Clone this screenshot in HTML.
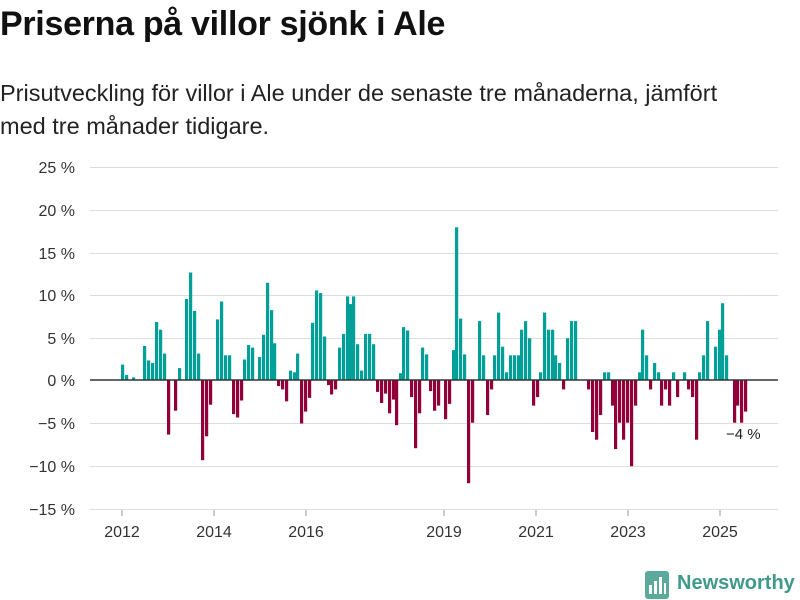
<!DOCTYPE html>
<html><head><meta charset="utf-8"><style>
body{margin:0;background:#fff;width:800px;height:600px;overflow:hidden;font-family:"Liberation Sans",sans-serif;color:#111}
h1{position:absolute;left:0;top:5px;margin:0;font-size:34px;font-weight:bold;letter-spacing:-0.3px}
p{position:absolute;left:0;top:77px;margin:0;font-size:23.5px;line-height:33px;color:#222;width:755px}
svg{position:absolute;left:0;top:0}
</style></head><body>
<h1>Priserna på villor sjönk i Ale</h1>
<p>Prisutveckling för villor i Ale under de senaste tre månaderna, jämfört med tre månader tidigare.</p>
<svg width="800" height="600" font-family="Liberation Sans, sans-serif">
<g stroke="#ddd" stroke-width="1">
<line x1="90" x2="778" y1="167.5" y2="167.5"/><line x1="90" x2="778" y1="210.5" y2="210.5"/>
<line x1="90" x2="778" y1="253.5" y2="253.5"/><line x1="90" x2="778" y1="295.5" y2="295.5"/>
<line x1="90" x2="778" y1="338.5" y2="338.5"/><line x1="90" x2="778" y1="423.5" y2="423.5"/>
<line x1="90" x2="778" y1="466.5" y2="466.5"/><line x1="90" x2="778" y1="509.5" y2="509.5"/>
</g>
<g font-size="16" fill="#333" text-anchor="end">
<text x="75" y="173">25 %</text><text x="75" y="216">20 %</text><text x="75" y="259">15 %</text>
<text x="75" y="301">10 %</text><text x="75" y="344">5 %</text><text x="75" y="386">0 %</text>
<text x="75" y="429">−5 %</text><text x="75" y="472">−10 %</text><text x="75" y="515">−15 %</text>
</g>
<g font-size="16" fill="#333" text-anchor="middle">
<text x="122" y="537">2012</text><text x="214" y="537">2014</text><text x="306" y="537">2016</text>
<text x="444" y="537">2019</text><text x="536" y="537">2021</text><text x="628" y="537">2023</text><text x="720" y="537">2025</text>
</g>
<g stroke="#999"><line x1="122" x2="122" y1="510" y2="516"/><line x1="214" x2="214" y1="510" y2="516"/><line x1="306" x2="306" y1="510" y2="516"/><line x1="444" x2="444" y1="510" y2="516"/><line x1="536" x2="536" y1="510" y2="516"/><line x1="628" x2="628" y1="510" y2="516"/><line x1="720" x2="720" y1="510" y2="516"/></g>
<g fill="#00a099">
<rect x="121" y="364.6" width="3.2" height="15.4"/><rect x="125" y="374.9" width="3.2" height="5.1"/><rect x="132" y="377.4" width="3.2" height="2.6"/>
<rect x="143" y="345.9" width="3.2" height="34.1"/><rect x="147" y="360.4" width="3.2" height="19.6"/><rect x="151" y="362.9" width="3.2" height="17.1"/>
<rect x="155" y="322" width="3.2" height="58"/><rect x="159" y="329.7" width="3.2" height="50.3"/><rect x="163" y="353.6" width="3.2" height="26.4"/>
<rect x="178" y="368.1" width="3.2" height="11.9"/><rect x="185" y="299" width="3.2" height="81"/><rect x="189" y="272.5" width="3.2" height="107.5"/>
<rect x="193" y="310.9" width="3.2" height="69.1"/><rect x="197" y="353.6" width="3.2" height="26.4"/>
<rect x="216" y="319.4" width="3.2" height="60.6"/><rect x="220" y="301.5" width="3.2" height="78.5"/><rect x="224" y="355.3" width="3.2" height="24.7"/><rect x="228" y="355.3" width="3.2" height="24.7"/>
<rect x="243" y="359.5" width="3.2" height="20.5"/><rect x="247" y="345" width="3.2" height="35"/><rect x="251" y="347.6" width="3.2" height="32.4"/>
<rect x="258" y="357" width="3.2" height="23"/><rect x="262" y="334.8" width="3.2" height="45.2"/><rect x="266" y="282.8" width="3.2" height="97.2"/>
<rect x="270" y="310.1" width="3.2" height="69.9"/><rect x="273" y="343.3" width="3.2" height="36.7"/>
<rect x="289" y="370.6" width="3.2" height="9.4"/><rect x="293" y="372.3" width="3.2" height="7.7"/><rect x="296" y="353.6" width="3.2" height="26.4"/>
<rect x="311" y="322.8" width="3.2" height="57.2"/><rect x="315" y="290.4" width="3.2" height="89.6"/><rect x="319" y="293" width="3.2" height="87"/><rect x="323" y="336.5" width="3.2" height="43.5"/>
<rect x="338" y="347.6" width="3.2" height="32.4"/><rect x="342" y="333.9" width="3.2" height="46.1"/><rect x="346" y="296.4" width="3.2" height="83.6"/>
<rect x="349" y="304.1" width="3.2" height="75.9"/><rect x="352" y="296.4" width="3.2" height="83.6"/><rect x="356" y="344.2" width="3.2" height="35.8"/>
<rect x="360" y="370.6" width="3.2" height="9.4"/><rect x="364" y="333.9" width="3.2" height="46.1"/><rect x="368" y="333.9" width="3.2" height="46.1"/><rect x="372" y="344.2" width="3.2" height="35.8"/>
<rect x="399" y="373.2" width="3.2" height="6.8"/><rect x="402" y="327.1" width="3.2" height="52.9"/><rect x="406" y="330.5" width="3.2" height="49.5"/>
<rect x="421" y="347.6" width="3.2" height="32.4"/><rect x="425" y="354.4" width="3.2" height="25.6"/>
<rect x="452" y="350.1" width="3.2" height="29.9"/><rect x="455" y="227.3" width="3.2" height="152.7"/><rect x="459" y="318.6" width="3.2" height="61.4"/><rect x="463" y="354.4" width="3.2" height="25.6"/>
<rect x="478" y="321.1" width="3.2" height="58.9"/><rect x="482" y="355.3" width="3.2" height="24.7"/>
<rect x="493" y="355.3" width="3.2" height="24.7"/><rect x="497" y="312.6" width="3.2" height="67.4"/><rect x="501" y="346.7" width="3.2" height="33.3"/><rect x="505" y="372.3" width="3.2" height="7.7"/>
<rect x="509" y="355.3" width="3.2" height="24.7"/><rect x="513" y="355.3" width="3.2" height="24.7"/><rect x="517" y="355.3" width="3.2" height="24.7"/>
<rect x="520" y="329.7" width="3.2" height="50.3"/><rect x="524" y="321.1" width="3.2" height="58.9"/><rect x="528" y="338.2" width="3.2" height="41.8"/>
<rect x="539" y="372.3" width="3.2" height="7.7"/><rect x="543" y="312.6" width="3.2" height="67.4"/><rect x="547" y="329.7" width="3.2" height="50.3"/><rect x="551" y="329.7" width="3.2" height="50.3"/>
<rect x="554" y="355.3" width="3.2" height="24.7"/><rect x="558" y="362.9" width="3.2" height="17.1"/>
<rect x="566" y="338.2" width="3.2" height="41.8"/><rect x="570" y="321.1" width="3.2" height="58.9"/><rect x="574" y="321.1" width="3.2" height="58.9"/>
<rect x="603" y="372.3" width="3.2" height="7.7"/><rect x="607" y="372.3" width="3.2" height="7.7"/>
<rect x="638" y="372.3" width="3.2" height="7.7"/><rect x="641" y="329.7" width="3.2" height="50.3"/><rect x="645" y="355.3" width="3.2" height="24.7"/>
<rect x="653" y="362.9" width="3.2" height="17.1"/><rect x="657" y="372.3" width="3.2" height="7.7"/><rect x="672" y="372.3" width="3.2" height="7.7"/>
<rect x="683" y="372.3" width="3.2" height="7.7"/><rect x="698" y="372.3" width="3.2" height="7.7"/><rect x="702" y="355.3" width="3.2" height="24.7"/>
<rect x="706" y="321.1" width="3.2" height="58.9"/><rect x="714" y="346.7" width="3.2" height="33.3"/><rect x="718" y="329.7" width="3.2" height="50.3"/>
<rect x="721" y="303.2" width="3.2" height="76.8"/><rect x="725" y="355.3" width="3.2" height="24.7"/>
</g>
<g fill="#920039">
<rect x="167" y="380" width="3.2" height="54.6"/><rect x="174" y="380" width="3.2" height="30.7"/>
<rect x="201" y="380" width="3.2" height="80.2"/><rect x="205" y="380" width="3.2" height="56.3"/><rect x="209" y="380" width="3.2" height="24.7"/>
<rect x="232" y="380" width="3.2" height="34.1"/><rect x="236" y="380" width="3.2" height="37.5"/><rect x="240" y="380" width="3.2" height="20.5"/>
<rect x="277" y="380" width="3.2" height="6"/><rect x="281" y="380" width="3.2" height="9.4"/><rect x="285" y="380" width="3.2" height="21.3"/>
<rect x="300" y="380" width="3.2" height="43.5"/><rect x="304" y="380" width="3.2" height="31.6"/><rect x="308" y="380" width="3.2" height="17.9"/>
<rect x="327" y="380" width="3.2" height="5.1"/><rect x="330" y="380" width="3.2" height="14.5"/><rect x="334" y="380" width="3.2" height="9.4"/>
<rect x="376" y="380" width="3.2" height="11.9"/><rect x="380" y="380" width="3.2" height="23"/><rect x="384" y="380" width="3.2" height="13.6"/>
<rect x="388" y="380" width="3.2" height="33.3"/><rect x="392" y="380" width="3.2" height="19.6"/><rect x="395" y="380" width="3.2" height="45.2"/>
<rect x="410" y="380" width="3.2" height="17.1"/><rect x="414" y="380" width="3.2" height="68.2"/><rect x="418" y="380" width="3.2" height="33.3"/>
<rect x="429" y="380" width="3.2" height="11.1"/><rect x="433" y="380" width="3.2" height="30.7"/><rect x="437" y="380" width="3.2" height="25.6"/>
<rect x="444" y="380" width="3.2" height="39.2"/><rect x="448" y="380" width="3.2" height="23.9"/>
<rect x="467" y="380" width="3.2" height="103.2"/><rect x="471" y="380" width="3.2" height="42.7"/>
<rect x="486" y="380" width="3.2" height="35"/><rect x="490" y="380" width="3.2" height="9.4"/>
<rect x="532" y="380" width="3.2" height="25.6"/><rect x="536" y="380" width="3.2" height="17.1"/><rect x="562" y="380" width="3.2" height="9.4"/>
<rect x="587" y="380" width="3.2" height="9.4"/><rect x="591" y="380" width="3.2" height="52"/><rect x="595" y="380" width="3.2" height="59.7"/><rect x="599" y="380" width="3.2" height="35"/>
<rect x="611" y="380" width="3.2" height="25.6"/><rect x="614" y="380" width="3.2" height="69.1"/><rect x="618" y="380" width="3.2" height="42.7"/>
<rect x="622" y="380" width="3.2" height="59.7"/><rect x="626" y="380" width="3.2" height="42.7"/><rect x="630" y="380" width="3.2" height="86.2"/><rect x="634" y="380" width="3.2" height="25.6"/>
<rect x="649" y="380" width="3.2" height="9.4"/><rect x="660" y="380" width="3.2" height="25.6"/><rect x="664" y="380" width="3.2" height="9.4"/><rect x="668" y="380" width="3.2" height="25.6"/>
<rect x="676" y="380" width="3.2" height="17.1"/><rect x="687" y="380" width="3.2" height="9.4"/><rect x="691" y="380" width="3.2" height="17.1"/><rect x="695" y="380" width="3.2" height="59.7"/>
<rect x="733" y="380" width="3.2" height="42.7"/><rect x="736" y="380" width="3.2" height="25.6"/><rect x="740" y="380" width="3.2" height="42.7"/><rect x="744" y="380" width="3.2" height="31.6"/>
</g>
<line x1="90" x2="778" y1="380" y2="380" stroke="#333" stroke-width="1.5"/>
<text x="726" y="439" font-size="15" fill="#222">−4 %</text>
<g transform="translate(645,571)">
<rect x="0" y="0" width="24" height="28" rx="3" fill="#5aa99a"/>
<rect x="4" y="14" width="3" height="9" fill="#fff"/><rect x="9" y="10" width="3" height="13" fill="#fff"/><rect x="14" y="6" width="3" height="17" fill="#fff"/><rect x="19" y="12" width="2" height="11" fill="#fff"/>
</g>
<text x="677" y="589" font-size="20" font-weight="bold" fill="#3f9a8c">Newsworthy</text>
</svg>
</body></html>
